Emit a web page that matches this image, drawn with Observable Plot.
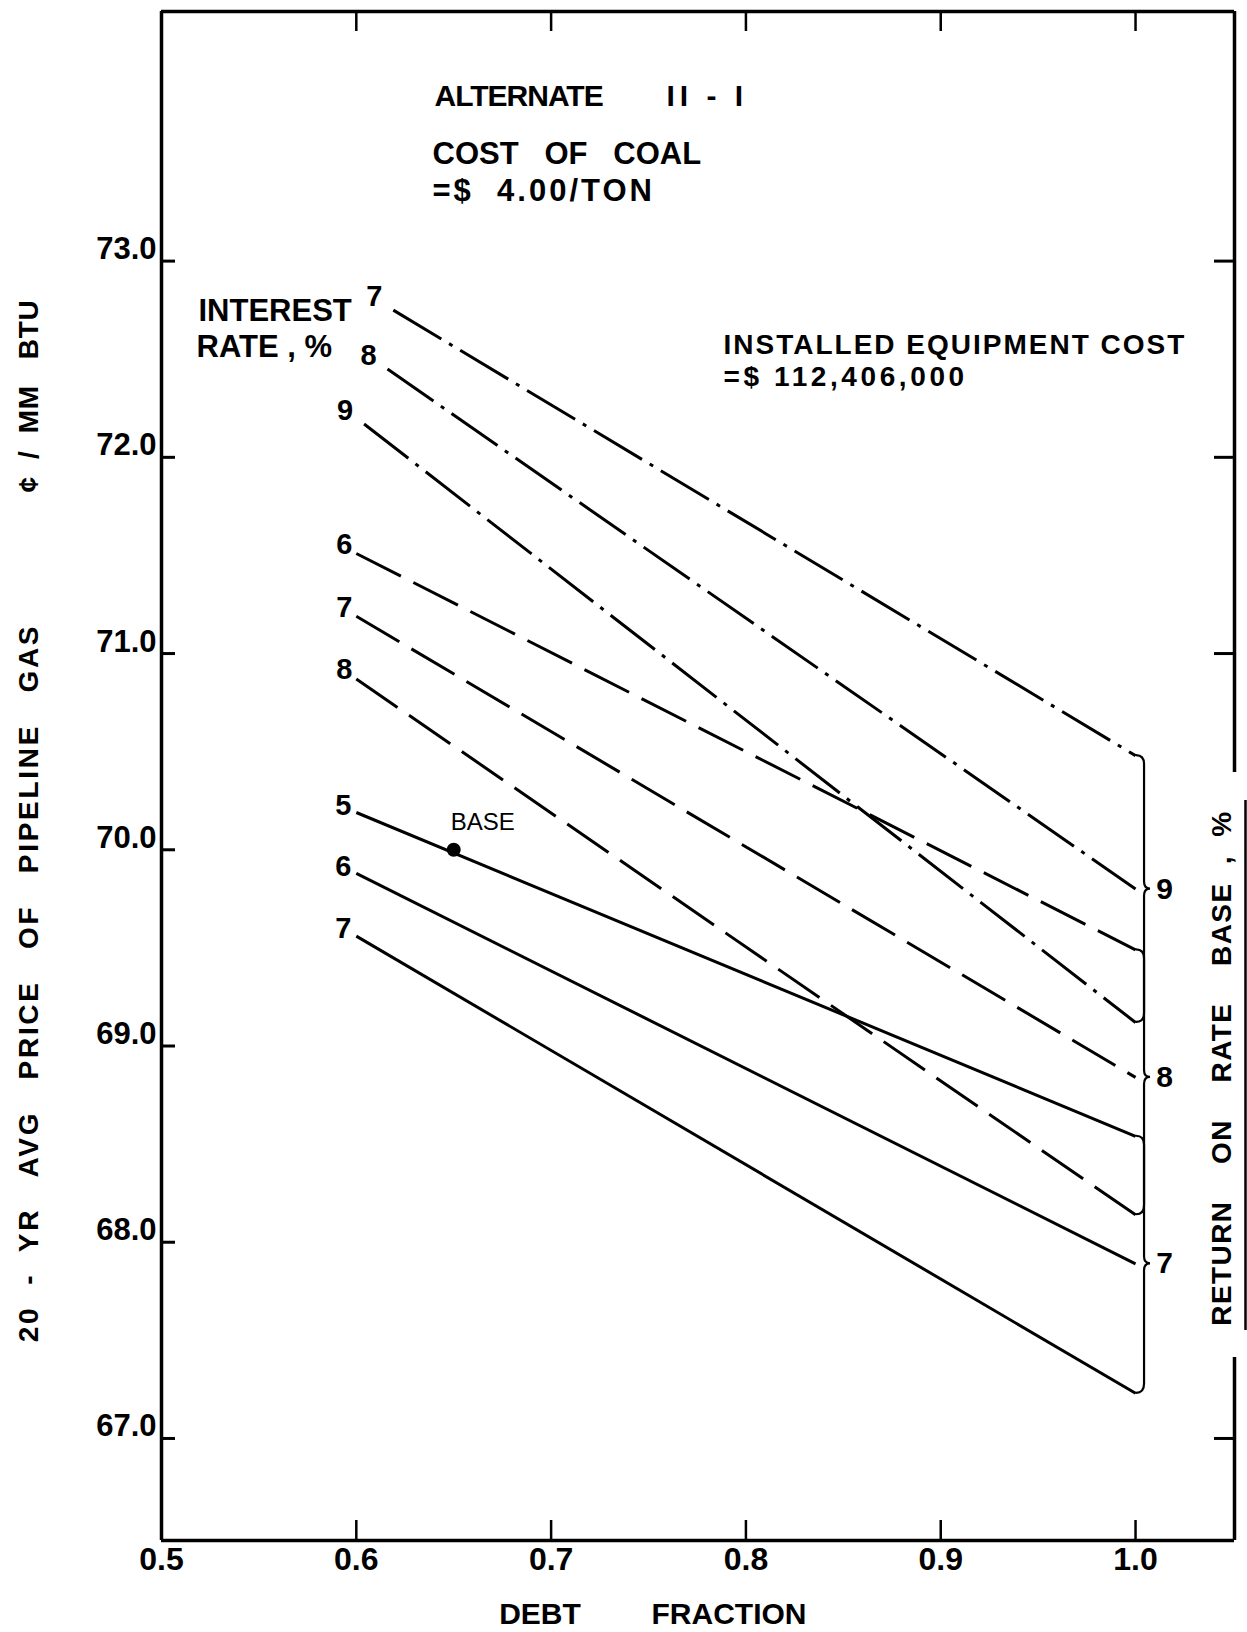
<!DOCTYPE html>
<html>
<head>
<meta charset="utf-8">
<script src="https://cdn.jsdelivr.net/npm/d3@7"></script>
<script src="https://cdn.jsdelivr.net/npm/@observablehq/plot@0.6"></script>
<style>
  html, body { margin: 0; padding: 0; background: #fff; }
  svg text { white-space: pre; }
</style>
</head>
<body>
<div id="chart"></div>
<script>
// ---------------- data ----------------
const xTickValues = [0.5, 0.6, 0.7, 0.8, 0.9, 1.0];
const xTickLabels = ["0.5", "0.6", "0.7", "0.8", "0.9", "1.0"];
const yTickValues = [67, 68, 69, 70, 71, 72, 73];
const yTickLabels = ["67.0", "68.0", "69.0", "70.0", "71.0", "72.0", "73.0"];

const debtEnd = 1.0;

// Return on rate base 9 % (dash-dot lines)
const ret9Interest   = [7, 8, 9];
const ret9DebtStart  = [0.619, 0.616, 0.604];
const ret9PriceStart = [72.75, 72.45, 72.17];
const ret9PriceEnd   = [70.48, 69.80, 69.12];

// Return on rate base 8 % (dashed lines)
const ret8Interest   = [6, 7, 8];
const ret8DebtStart  = [0.60, 0.60, 0.60];
const ret8PriceStart = [71.51, 71.19, 70.87];
const ret8PriceEnd   = [69.49, 68.84, 68.14];

// Return on rate base 7 % (solid lines)
const ret7Interest   = [5, 6, 7];
const ret7DebtStart  = [0.60, 0.60, 0.60];
const ret7PriceStart = [70.19, 69.88, 69.56];
const ret7PriceEnd   = [68.54, 67.89, 67.23];

const baseDebt  = [0.65];
const basePrice = [70.0];

// texts
const T_YTITLE = "20  -  YR   AVG   PRICE   OF   PIPELINE   GAS";
const T_YUNIT = "¢  /  MM   BTU";
const T_RTITLE = "RETURN    ON    RATE    BASE  ,  %";
const T_ALT = "ALTERNATE";
const T_ALTNUM = "II - I";
const T_COAL1 = "COST   OF   COAL";
const T_COAL2 = "=$  4.00/TON";
const T_INT1 = "INTEREST";
const T_INT2 = "RATE , %";
const T_EQ1 = "INSTALLED EQUIPMENT COST";
const T_EQ2 = "=$ 112,406,000";

// ---------------- layout ----------------
const W = 1247, H = 1632;
const mL = 161, mR = 13, mT = 11, mB = 92;
const frameW = W - mL - mR, frameH = H - mT - mB;
const xDomain = [0.5, 1.0508];
const yDomain = [66.48, 74.272];
const FONT = "'Liberation Sans', Arial, Helvetica, sans-serif";

// gap in the right frame (pixels) where the right-hand title sits
const gapTop = 772, gapBottom = 1357;
const pxToY = px => yDomain[1] - (px - mT) / frameH * (yDomain[1] - yDomain[0]);
const rightTicks = yTickValues.filter(v => v > pxToY(gapTop) || v < pxToY(gapBottom));

const letterSpacing = new Map([
  [T_YTITLE, 2.7], [T_YUNIT, 0.8], [T_RTITLE, 1.4], [T_ALT, -1], [T_ALTNUM, 5],
  [T_COAL2, 3], [T_EQ1, 2], [T_EQ2, 3.6]
]);

const groups = [
  {ret: 9, interest: ret9Interest, x0: ret9DebtStart, y0: ret9PriceStart, y1: ret9PriceEnd, dash: "56,9,4,9", ldx: -19, ldy: -13},
  {ret: 8, interest: ret8Interest, x0: ret8DebtStart, y0: ret8PriceStart, y1: ret8PriceEnd, dash: "50,14", ldx: -12, ldy: -9},
  {ret: 7, interest: ret7Interest, x0: ret7DebtStart, y0: ret7PriceStart, y1: ret7PriceEnd, dash: null, ldx: -13, ldy: -7}
];

const lineRows = groups.flatMap(g => g.interest.flatMap((r, i) => [
  {key: `${g.ret}-${r}`, ret: g.ret, debt: g.x0[i], price: g.y0[i]},
  {key: `${g.ret}-${r}`, ret: g.ret, debt: debtEnd, price: g.y1[i]}
]));
const startRows = groups.flatMap(g => g.interest.map((r, i) => ({ret: g.ret, label: String(r), debt: g.x0[i], price: g.y0[i]})));
const braceRows = groups.map(g => ({label: String(g.ret), top: g.y1[0], mid: g.y1[1], bot: g.y1[2]}));
const baseRows = baseDebt.map((d, i) => ({debt: d, price: basePrice[i]}));

const xTickRows = xTickValues.map((v, i) => ({v, label: xTickLabels[i]}));
const yTickRows = yTickValues.map((v, i) => ({v, label: yTickLabels[i]}));
const innerX = xTickValues.filter(v => v > xDomain[0]);

function braceMark(index, scales) {
  const g = d3.create("svg:g")
    .attr("fill", "none").attr("stroke", "black")
    .attr("stroke-width", 2.2).attr("stroke-linecap", "round");
  const xe = scales.x(debtEnd) + 4;
  const xv = xe + 5;
  for (const b of braceRows) {
    const yt = scales.y(b.top), ym = scales.y(b.mid), yb = scales.y(b.bot);
    g.append("path").attr("d",
      `M${xe - 3},${yt} Q${xv},${yt} ${xv},${yt + 9} L${xv},${ym - 7} Q${xv},${ym} ${xv + 6},${ym} ` +
      `Q${xv},${ym} ${xv},${ym + 7} L${xv},${yb - 9} Q${xv},${yb} ${xe - 3},${yb}`);
  }
  return g.node();
}

const annot = (text, dx, dy, opts = {}) => Plot.text([text], {
  frameAnchor: "top-left", textAnchor: "start", lineAnchor: "top",
  dx, dy, fontWeight: "bold", fontSize: 31, fontFamily: FONT, fill: "black", ...opts
});

const chart = Plot.plot({
  width: W, height: H,
  marginLeft: mL, marginRight: mR, marginTop: mT, marginBottom: mB,
  x: {domain: xDomain, axis: null},
  y: {domain: yDomain, axis: null},
  style: {background: "white", color: "black"},
  marks: [
    // frame
    Plot.ruleX([xDomain[0]], {strokeWidth: 3.5}),
    Plot.ruleY([yDomain[1]], {strokeWidth: 3.5}),
    Plot.ruleY([yDomain[0]], {strokeWidth: 3.5}),
    Plot.ruleX([xDomain[1]], {strokeWidth: 3.5, insetBottom: (mT + frameH) - gapTop}),
    Plot.ruleX([xDomain[1]], {strokeWidth: 3.5, insetTop: gapBottom - mT}),
    Plot.ruleX([xDomain[1]], {strokeWidth: 2.5, dx: 11, insetTop: 800 - mT, insetBottom: (mT + frameH) - 1330}),
    // ticks
    Plot.ruleX(innerX, {strokeWidth: 2.5, insetTop: frameH - 20}),
    Plot.ruleX(innerX, {strokeWidth: 2.5, insetBottom: frameH - 20}),
    Plot.ruleY(yTickValues, {strokeWidth: 3, insetRight: frameW - 14}),
    Plot.ruleY(rightTicks, {strokeWidth: 3, insetLeft: frameW - 20}),
    // tick labels
    Plot.text(xTickRows, {x: "v", text: "label", frameAnchor: "bottom", textAnchor: "middle", lineAnchor: "top", dy: 7,
      fontFamily: FONT, fontWeight: "bold", fontSize: 32}),
    Plot.text(yTickRows, {y: "v", text: "label", frameAnchor: "left", textAnchor: "end", lineAnchor: "bottom",
      dx: -5, dy: -2, fontFamily: FONT, fontWeight: "bold", fontSize: 31}),
    // axis titles
    Plot.text(["DEBT"], {frameAnchor: "bottom", textAnchor: "middle", lineAnchor: "top", dx: -158, dy: 62,
      fontFamily: FONT, fontWeight: "bold", fontSize: 30}),
    Plot.text(["FRACTION"], {frameAnchor: "bottom", textAnchor: "middle", lineAnchor: "top", dx: 31, dy: 62,
      fontFamily: FONT, fontWeight: "bold", fontSize: 30}),
    Plot.text([T_YTITLE], {frameAnchor: "left", textAnchor: "middle", lineAnchor: "middle", rotate: -90,
      dx: -132, dy: 207, fontFamily: FONT, fontWeight: "bold", fontSize: 28}),
    Plot.text([T_YUNIT], {frameAnchor: "left", textAnchor: "middle", lineAnchor: "middle", rotate: -90,
      dx: -132, dy: -380, fontFamily: FONT, fontWeight: "bold", fontSize: 28}),
    Plot.text([T_RTITLE], {frameAnchor: "right", textAnchor: "middle", lineAnchor: "middle", rotate: -90,
      dx: -12, dy: 292, fontFamily: FONT, fontWeight: "bold", fontSize: 28}),
    // annotations
    annot(T_ALT, 273, 73, {fontSize: 30}),
    annot(T_ALTNUM, 505, 73, {fontSize: 30}),
    annot(T_COAL1, 271, 130),
    annot(T_COAL2, 271, 167),
    annot(T_INT1, 37, 287),
    annot(T_INT2, 35, 323),
    annot(T_EQ1, 562, 323, {fontSize: 28}),
    annot(T_EQ2, 562, 355, {fontSize: 28}),
    // curves
    ...groups.map(g => Plot.line(lineRows.filter(d => d.ret === g.ret), {
      x: "debt", y: "price", z: "key", stroke: "black", strokeWidth: 3,
      strokeDasharray: g.dash, strokeLinecap: "butt"
    })),
    // interest-rate labels
    ...groups.map(g => Plot.text(startRows.filter(d => d.ret === g.ret), {
      x: "debt", y: "price", text: "label", dx: g.ldx, dy: g.ldy,
      fontFamily: FONT, fontWeight: "bold", fontSize: 29
    })),
    // base point
    Plot.dot(baseRows, {x: "debt", y: "price", r: 7, fill: "black", stroke: null}),
    Plot.text(baseRows, {x: "debt", y: "price", text: () => "BASE", dx: 29, dy: -27,
      fontFamily: FONT, fontSize: 24}),
    // braces
    braceMark,
    Plot.text(braceRows, {x: () => debtEnd, y: "mid", text: "label", dx: 29,
      fontFamily: FONT, fontWeight: "bold", fontSize: 30})
  ]
});
document.getElementById("chart").appendChild(chart);
chart.querySelectorAll("text").forEach(t => {
  const s = letterSpacing.get(t.textContent);
  if (s != null) t.style.letterSpacing = s + "px";
});
</script>
</body>
</html>
